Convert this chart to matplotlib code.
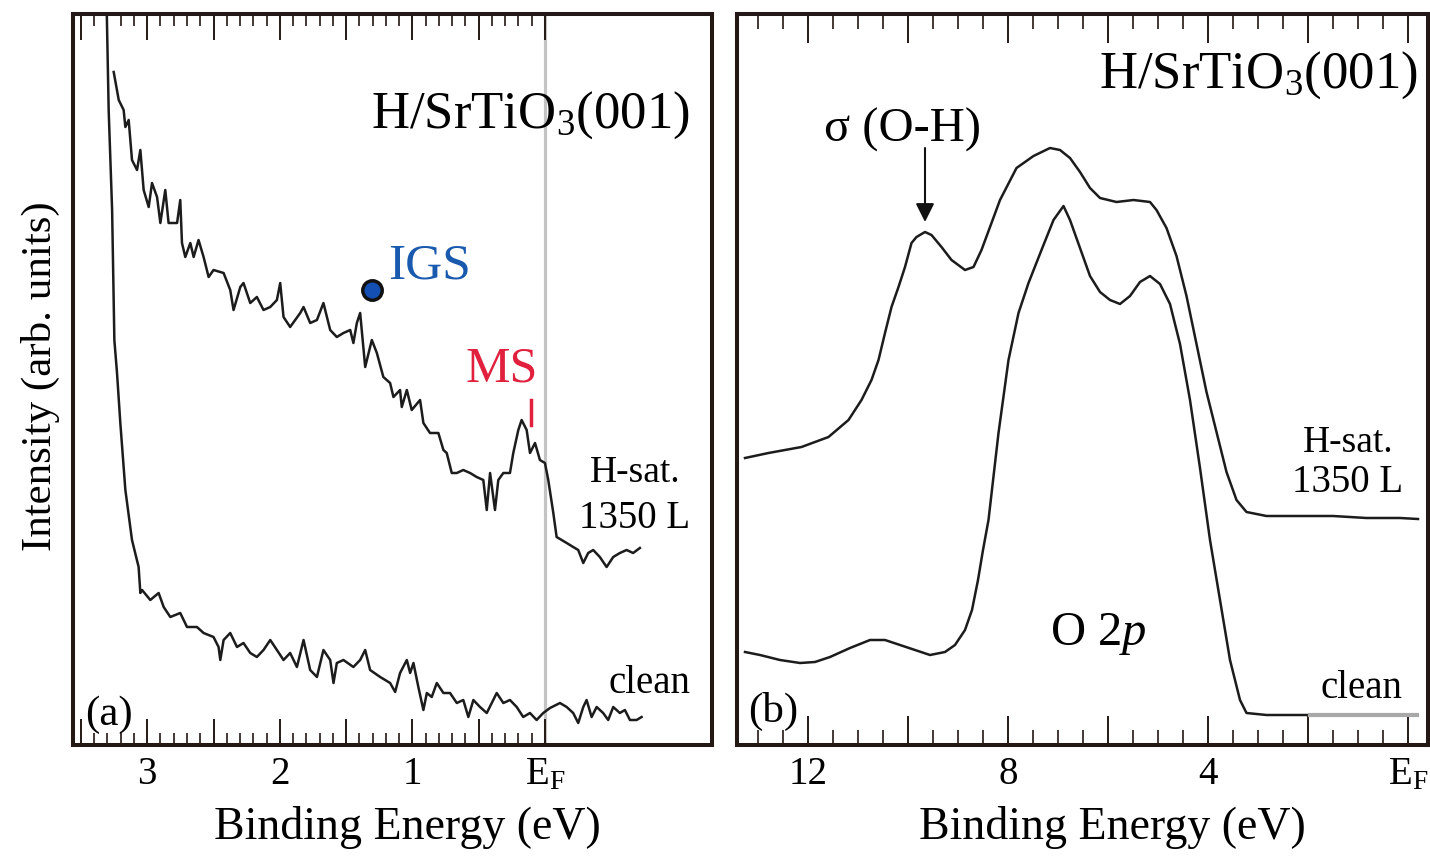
import numpy as np
import matplotlib
matplotlib.use("Agg")
import matplotlib.pyplot as plt
from matplotlib.ticker import FixedLocator, FixedFormatter

plt.rcParams.update({
    'font.family': 'serif',
    'font.serif': ['Liberation Serif', 'DejaVu Serif'],
    'mathtext.fontset': 'custom',
    'mathtext.rm': 'Liberation Serif',
    'mathtext.it': 'Liberation Serif:italic',
})

# ---- panel (a): near-EF region (binding energy in eV, intensity arb. units)
a_clean_E = [3.305, 3.291, 3.265, 3.248, 3.228, 3.203, 3.165, 3.115, 3.065, 3.052, 3.039, 2.977,
             2.914, 2.876, 2.826, 2.751, 2.700, 2.625, 2.575, 2.500, 2.462, 2.449, 2.424, 2.374,
             2.323, 2.274, 2.223, 2.173, 2.123, 2.072, 2.022, 1.972, 1.922, 1.871, 1.821, 1.771,
             1.720, 1.671, 1.620, 1.595, 1.570, 1.520, 1.445, 1.394, 1.356, 1.319, 1.243, 1.168,
             1.130, 1.093, 1.042, 1.017, 0.992, 0.955, 0.917, 0.891, 0.854, 0.816, 0.766, 0.716,
             0.665, 0.616, 0.578, 0.540, 0.490, 0.439, 0.390, 0.364, 0.314, 0.264, 0.213, 0.164,
             0.113, 0.063, 0.013, -0.038, -0.113, -0.164, -0.213, -0.251, -0.289, -0.314, -0.352,
             -0.390, -0.439, -0.477, -0.515, -0.565, -0.603, -0.641, -0.691, -0.729]
a_clean_I = [731, 635, 535, 405, 372, 322, 255, 205, 178, 152, 155, 145,
             152, 138, 128, 132, 118, 118, 112, 108, 98, 85, 105, 112,
             98, 102, 92, 88, 95, 105, 95, 85, 92, 78, 105, 75,
             68, 95, 85, 62, 82, 85, 78, 85, 95, 75, 68, 62,
             53, 72, 85, 72, 82, 58, 35, 52, 48, 62, 52, 52,
             42, 45, 28, 45, 38, 32, 45, 52, 42, 45, 38, 28,
             32, 25, 32, 37, 42, 38, 32, 22, 38, 45, 28,
             38, 32, 25, 38, 32, 35, 25, 25, 28]

a_hsat_E = [3.253, 3.215, 3.178, 3.165, 3.140, 3.115, 3.077, 3.052, 3.027, 2.989, 2.964, 2.926,
            2.901, 2.864, 2.839, 2.775, 2.751, 2.738, 2.713, 2.675, 2.650, 2.613, 2.575, 2.537,
            2.500, 2.424, 2.374, 2.349, 2.298, 2.274, 2.223, 2.173, 2.123, 2.072, 2.022, 1.997,
            1.972, 1.922, 1.846, 1.821, 1.771, 1.720, 1.671, 1.620, 1.570, 1.520, 1.469, 1.445,
            1.419, 1.394, 1.356, 1.306, 1.268, 1.219, 1.168, 1.143, 1.093, 1.080, 1.042, 1.005,
            0.942, 0.917, 0.867, 0.804, 0.766, 0.741, 0.703, 0.665, 0.616, 0.565, 0.515, 0.465,
            0.439, 0.414, 0.377, 0.352, 0.314, 0.264, 0.239, 0.201, 0.176, 0.138, 0.113, 0.075,
            0.038, 0.000, -0.025, -0.063, -0.088, -0.126, -0.164, -0.213, -0.251, -0.289, -0.326,
            -0.364, -0.414, -0.465, -0.515, -0.565, -0.616, -0.665, -0.716]
a_hsat_I = [673, 645, 635, 618, 625, 585, 575, 595, 555, 538, 562, 548,
            522, 555, 522, 522, 545, 502, 488, 502, 488, 505, 488, 468,
            475, 472, 455, 435, 458, 462, 442, 448, 435, 438, 445, 462,
            428, 418, 432, 438, 422, 425, 442, 415, 408, 412, 415, 402,
            422, 432, 378, 405, 392, 368, 362, 348, 355, 338, 355, 335,
            345, 322, 312, 312, 295, 292, 272, 272, 275, 272, 268, 265,
            235, 272, 235, 265, 272, 272, 292, 315, 325, 315, 292, 302,
            285, 282, 265, 232, 208, 205, 202, 198, 195, 182, 192,
            195, 188, 178, 188, 192, 195, 192, 197]

igs_E, igs_I = 1.304, 455

# ---- panel (b): valence band
b_hsat_E = [13.26, 12.79, 12.13, 11.59, 11.19, 10.93, 10.73, 10.59, 10.46, 10.33, 10.19, 10.06,
            9.93, 9.83, 9.66, 9.53, 9.33, 9.13, 8.86, 8.69, 8.53, 8.33, 8.16, 7.83, 7.49, 7.16,
            6.96, 6.76, 6.56, 6.36, 6.16, 5.83, 5.49, 5.16, 5.03, 4.83, 4.63, 4.43, 4.23, 4.03,
            3.83, 3.63, 3.43, 3.23, 2.83, 2.16, 1.50, 0.83, 0.16, -0.20]
b_hsat_I = [287, 292, 298, 308, 325, 345, 365, 385, 412, 438, 458, 478,
            502, 508, 513, 510, 498, 485, 475, 478, 495, 522, 545, 577, 589, 597,
            595, 587, 573, 557, 547, 543, 545, 543, 535, 517, 489, 449, 401, 353,
            313, 273, 245, 233, 229, 229, 229, 227, 227, 226]

b_clean_E = [13.26, 12.96, 12.56, 12.16, 11.86, 11.56, 11.16, 10.76, 10.46, 10.16, 9.86, 9.56,
             9.26, 9.06, 8.86, 8.72, 8.60, 8.50, 8.39, 8.19, 7.99, 7.79, 7.59, 7.33, 7.09, 6.89,
             6.76, 6.56, 6.36, 6.16, 5.96, 5.76, 5.56, 5.36, 5.16, 4.96, 4.76, 4.56, 4.36, 4.16,
             3.96, 3.76, 3.56, 3.36, 3.23, 2.83, 1.96, 1.50, -0.17]
b_clean_I = [93, 90, 85, 82, 83, 88, 97, 105, 105, 100, 95, 90,
             93, 100, 115, 135, 165, 195, 225, 312, 385, 432, 462, 495, 525, 539,
             525, 497, 469, 453, 445, 441, 449, 463, 469, 461, 441, 401, 345, 277,
             205, 145, 85, 45, 32, 30, 30, 30, 30]

sigma_E = 9.66

line_kw = dict(color='#1c1c1c', lw=1.8)

fig = plt.figure(figsize=(14.3, 8.56), dpi=100)
ax1 = fig.add_axes([73 / 1430, 1 - 745 / 856, 639 / 1430, 731 / 856])
ax2 = fig.add_axes([737 / 1430, 1 - 745 / 856, 691 / 1430, 731 / 856])

for ax in (ax1, ax2):
    for sp in ax.spines.values():
        sp.set_linewidth(2.9)
        sp.set_color('#231815')
    ax.set_ylim(0, 731)
    ax.set_yticks([])
    ax.tick_params(axis='x', which='both', direction='in', top=True, bottom=True,
                   width=1.4, color='#231815', labelsize=28, pad=8)

# ---- (a)
ax1.set_xlim(3.56, -1.26)
ax1.axvline(0, color='#c4c4c4', lw=2.3, zorder=1)
ax1.plot(a_clean_E, a_clean_I, **line_kw)
ax1.plot(a_hsat_E, a_hsat_I, **line_kw)
ax1.xaxis.set_major_locator(FixedLocator([3.5, 3, 2.5, 2, 1.5, 1, 0.5, 0]))
ax1.xaxis.set_major_formatter(FixedFormatter(['', '3', '', '2', '', '1', '', r'E$_\mathrm{F}$']))
ax1.xaxis.set_minor_locator(FixedLocator(np.arange(0, 3.55, 0.1)))
ax1.tick_params(axis='x', which='major', length=19)
ax1.tick_params(axis='x', which='minor', length=8.5, width=1.2)
ax1.set_xlabel('Binding Energy (eV)', fontsize=33)
ax1.xaxis.set_label_coords(0.523, -0.083)
ax1.set_ylabel('Intensity (arb. units)', fontsize=31)
ax1.yaxis.set_label_coords(-0.02, 0.505)

ax1.text(-1.093, 617, r'H/SrTiO$_3$(001)', fontsize=38, ha='right', va='baseline')
ax1.plot([igs_E], [igs_I], 'o', ms=14, mfc='#1450b4', mec='#111111', mew=2.5)
ax1.text(1.183, 467, 'IGS', fontsize=37, color='#1a5aae', ha='left', va='baseline')
ax1.text(0.324, 364, 'MS', fontsize=36, color='#e0203c', ha='center', va='baseline')
ax1.plot([0.105, 0.105], [320, 345], color='#e0203c', lw=2.5)
ax1.text(-0.678, 263, 'H-sat.', fontsize=27, ha='center', va='baseline')
ax1.text(-0.678, 217, '1350 L', fontsize=28, ha='center', va='baseline')
ax1.text(-0.79, 52, 'clean', fontsize=28, ha='center', va='baseline')
ax1.text(3.467, 20, '(a)', fontsize=31, ha='left', va='baseline')

# ---- (b)
ax2.set_xlim(13.42, -0.4)
ax2.plot(b_clean_E, b_clean_I, **line_kw)
tail = [i for i, e in enumerate(b_clean_E) if e <= 1.96]
ax2.plot([b_clean_E[i] for i in tail], [b_clean_I[i] for i in tail], color='#a8a8a8', lw=3)
ax2.plot(b_hsat_E, b_hsat_I, **line_kw)
ax2.xaxis.set_major_locator(FixedLocator([12, 10, 8, 6, 4, 2, 0]))
ax2.xaxis.set_major_formatter(FixedFormatter(['12', '', '8', '', '4', '', r'E$_\mathrm{F}$']))
ax2.xaxis.set_minor_locator(FixedLocator(np.arange(0, 13.1, 0.5)))
ax2.tick_params(axis='x', which='major', length=21)
ax2.tick_params(axis='x', which='minor', length=11, width=1.2)
ax2.set_xlabel('Binding Energy (eV)', fontsize=33)
ax2.xaxis.set_label_coords(0.543, -0.083)

ax2.text(-0.2, 657, r'H/SrTiO$_3$(001)', fontsize=38, ha='right', va='baseline')
ax2.text(10.1, 603, '\u03c3 (O-H)', fontsize=35, ha='center', va='baseline')
ax2.annotate('', xy=(sigma_E, 523), xytext=(sigma_E, 597),
             arrowprops=dict(arrowstyle='-|>', color='#111111', lw=1.5,
                             mutation_scale=28, shrinkA=0, shrinkB=0))
ax2.text(7.16, 100, r'O 2$p$', fontsize=35, ha='left', va='baseline')
ax2.text(1.2, 293, 'H-sat.', fontsize=27, ha='center', va='baseline')
ax2.text(1.2, 253, '1350 L', fontsize=28, ha='center', va='baseline')
ax2.text(0.92, 47, 'clean', fontsize=28, ha='center', va='baseline')
ax2.text(13.2, 23, '(b)', fontsize=31, ha='left', va='baseline')

fig.savefig('out.png', dpi=100)
